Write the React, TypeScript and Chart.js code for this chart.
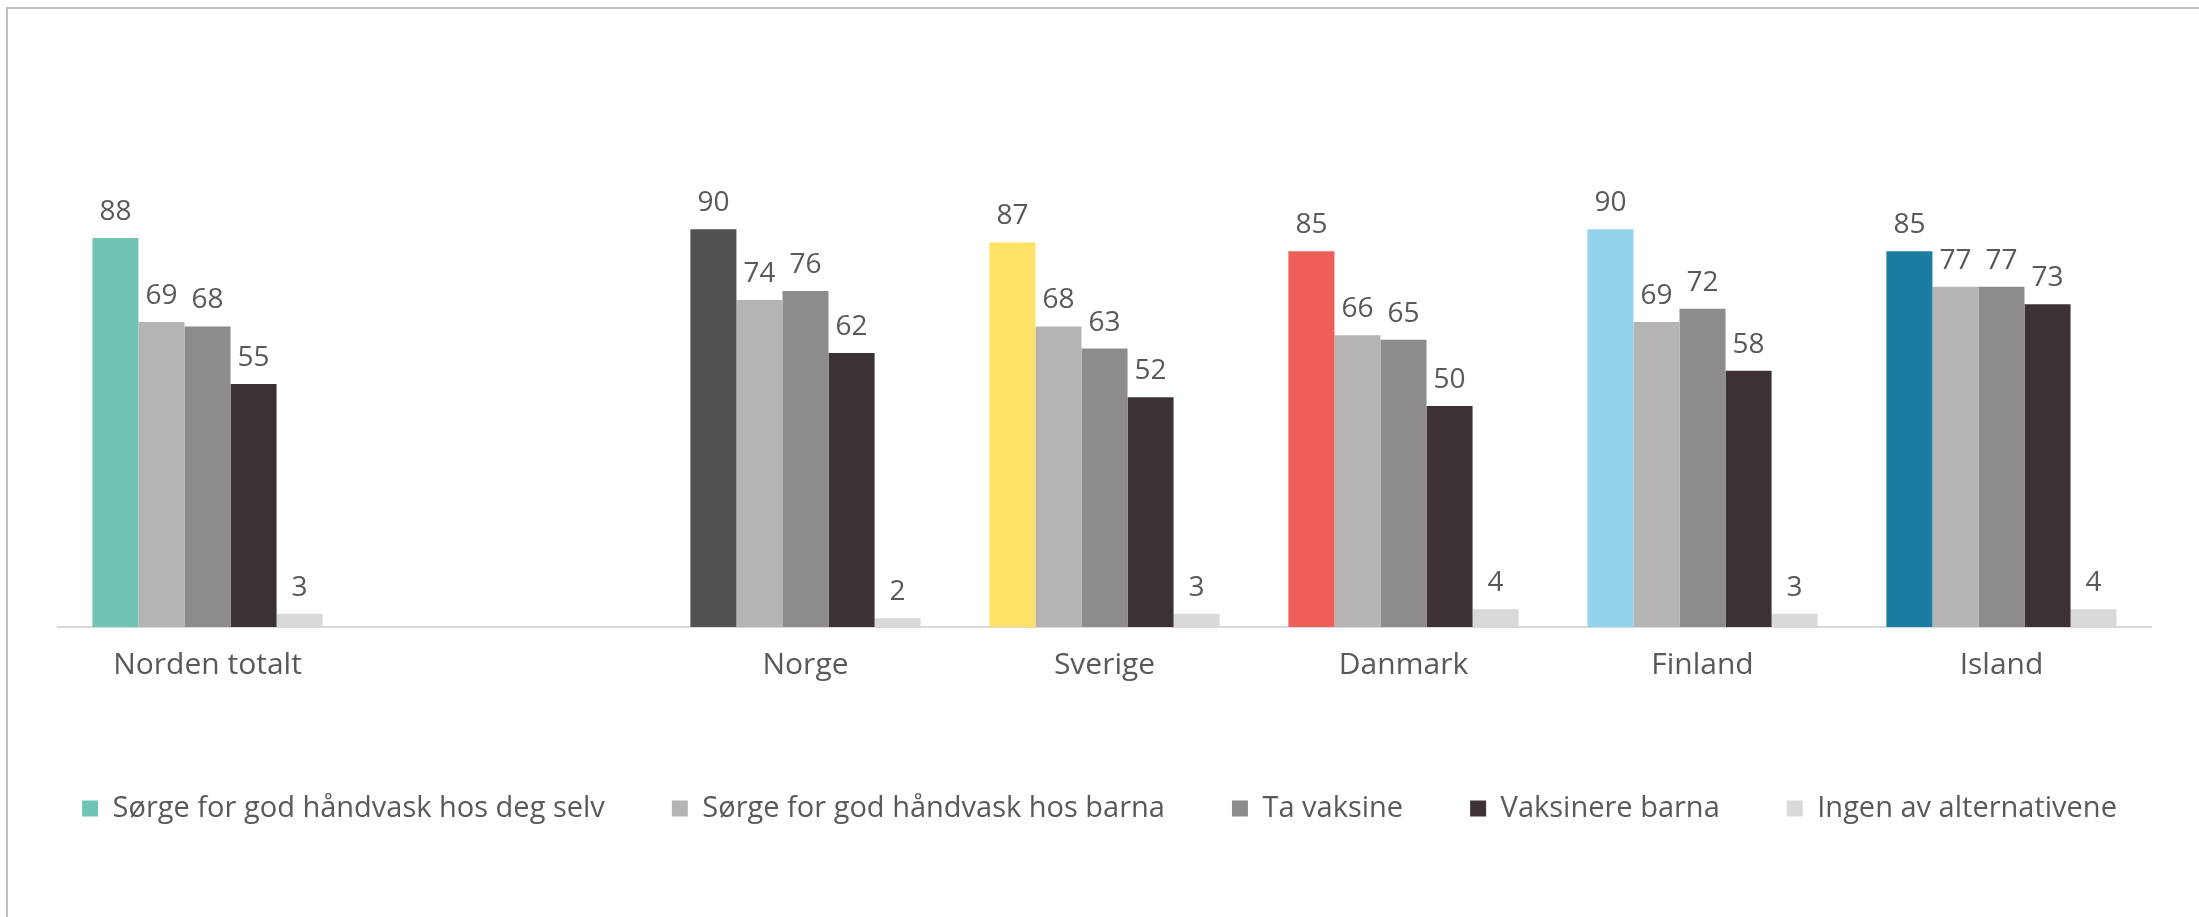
import React, { useEffect, useRef } from "react";
import { Chart, registerables } from "chart.js";

Chart.register(...registerables);

const categories = ["Norden totalt", "", "Norge", "Sverige", "Danmark", "Finland", "Island"];
const seriesNames = [
  "Sørge for god håndvask hos deg selv",
  "Sørge for god håndvask hos barna",
  "Ta vaksine",
  "Vaksinere barna",
  "Ingen av alternativene",
];
const handvaskSelv = [88, null, 90, 87, 85, 90, 85];
const handvaskBarna = [69, null, 74, 68, 66, 69, 77];
const taVaksine = [68, null, 76, 63, 65, 72, 77];
const vaksinereBarna = [55, null, 62, 52, 50, 58, 73];
const ingenAlternativ = [3, null, 2, 3, 4, 3, 4];

const firstColors = ["#70C4B4", "#70C4B4", "#4F524F", "#FDE266", "#EF5F5A", "#93D3EA", "#1C7BA0"];
const seriesColors = ["#70C4B4", "#B5B3B4", "#8D8B8C", "#3C3134", "#D9D9D9"];

const FONT = "'Open Sans', 'DejaVu Sans', sans-serif";
const TEXT = "#595959";

const valueLabels = {
  id: "valueLabels",
  afterDatasetsDraw(chart: any) {
    const ctx = chart.ctx;
    ctx.save();
    ctx.font = `28px ${FONT}`;
    ctx.fillStyle = TEXT;
    ctx.textAlign = "center";
    ctx.textBaseline = "alphabetic";
    chart.data.datasets.forEach((ds: any, i: number) => {
      const meta = chart.getDatasetMeta(i);
      meta.data.forEach((el: any, j: number) => {
        const v = ds.data[j];
        if (v === null || v === undefined) return;
        ctx.fillText(String(v), el.x, el.y - 18);
      });
    });
    ctx.restore();
  },
};

export default function App() {
  const ref = useRef<HTMLCanvasElement>(null);
  useEffect(() => {
    if (!ref.current) return;
    const allSeries = [handvaskSelv, handvaskBarna, taVaksine, vaksinereBarna, ingenAlternativ];
    const chart = new Chart(ref.current, {
      type: "bar",
      data: {
        labels: categories,
        datasets: allSeries.map((d, i) => ({
          label: seriesNames[i],
          data: d,
          backgroundColor:
            i === 0
              ? (c: any) => (c.type === "data" ? firstColors[c.dataIndex] : seriesColors[0])
              : seriesColors[i],
          borderWidth: 0,
          barPercentage: 1,
          categoryPercentage: 0.77,
        })),
      },
      options: {
        responsive: false,
        animation: false,
        devicePixelRatio: 1,
        layout: { padding: { left: 0, right: 0, top: 185, bottom: 84 } },
        scales: {
          x: {
            grid: { display: false },
            border: { display: true, color: "#D9D9D9", width: 2 },
            ticks: { font: { family: FONT, size: 30 }, color: TEXT, padding: 12 },
            afterFit: (s: any) => {
              s.height += 32;
            },
          },
          y: {
            display: true,
            min: 0,
            max: 100,
            grid: { display: false },
            border: { display: false },
            ticks: { display: false },
            afterFit: (s: any) => {
              s.width = 58;
            },
          },
          yRight: {
            type: "linear",
            position: "right",
            display: true,
            grid: { display: false },
            border: { display: false },
            ticks: { display: false },
            afterFit: (s: any) => {
              s.width = 48;
            },
          },
        },
        plugins: {
          legend: {
            position: "bottom",
            labels: {
              boxWidth: 16,
              boxHeight: 16,
              padding: 67,
              color: TEXT,
              font: { family: FONT, size: 29 },
            },
          },
          tooltip: { enabled: false },
        },
      },
      plugins: [valueLabels],
    });
    return () => chart.destroy();
  }, []);
  return (
    <div style={{ position: "fixed", left: 0, top: 0, width: 2199, height: 917, background: "#fff" }}>
      <div
        style={{
          position: "absolute",
          left: 6,
          top: 7,
          width: 2400,
          height: 1100,
          borderLeft: "2px solid #BFBFBF",
          borderTop: "2px solid #BFBFBF",
        }}
      />
      <canvas ref={ref} width={2199} height={917} style={{ position: "absolute", left: 0, top: 0 }} />
    </div>
  );
}
